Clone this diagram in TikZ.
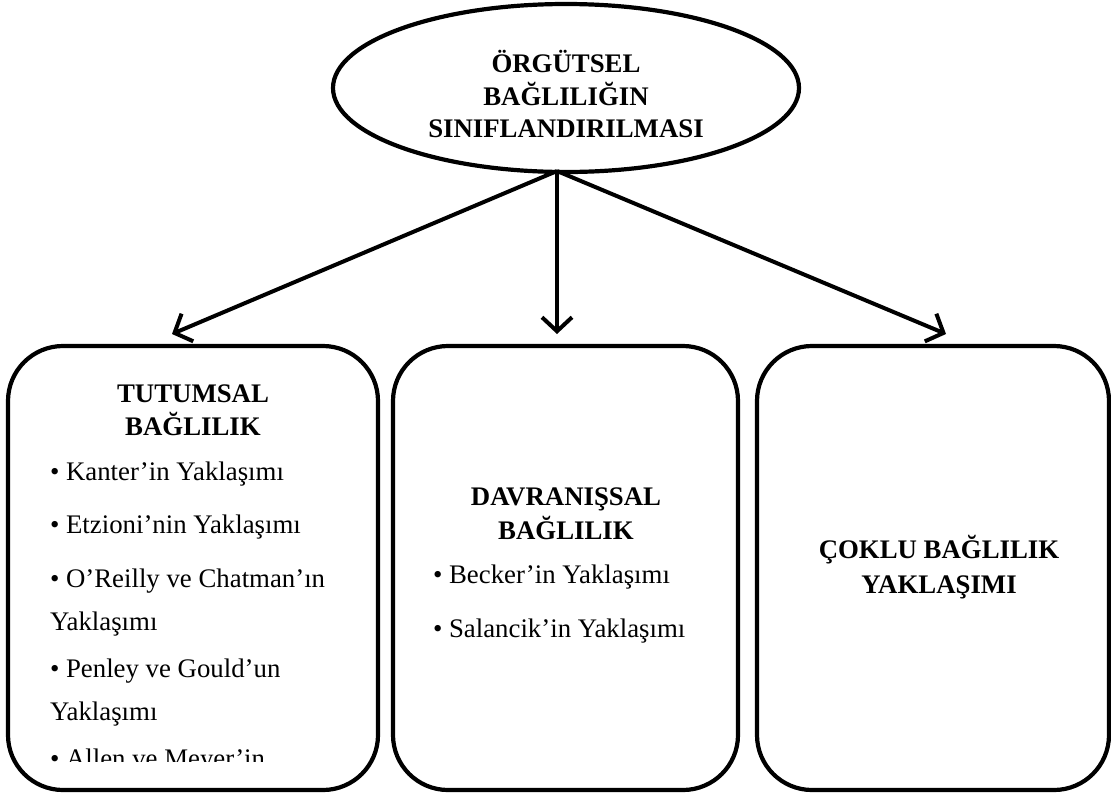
\documentclass[tikz,border=0pt]{standalone}
\usepackage{fontspec}
\setmainfont{Liberation Serif}
\usetikzlibrary{shapes.geometric,arrows.meta}
\begin{document}
\begin{tikzpicture}[x=1pt,y=-1pt,
  every node/.style={inner sep=0pt,outer sep=0pt},
  hd/.style={anchor=base,font=\fontsize{26.8}{33}\selectfont\bfseries},
  item/.style={anchor=base west,font=\fontsize{26.8}{33}\selectfont},
  card/.style={draw,line width=4.2pt,rounded corners=55pt},
  arr/.style={line width=4pt,-{Straight Barb[length=14pt,width=30pt,line width=4pt]}}]
\useasboundingbox (0,0) rectangle (1111,793);
% top ellipse
\node[draw,ellipse,line width=4.2pt,minimum width=466pt,minimum height=168pt] (top) at (566,88) {};
\node[hd] (t1) at (566,72) {ÖRGÜTSEL};
\node[hd] (t2) at (566,105) {BAĞLILIĞIN};
\node[hd] (t3) at (566,137) {SINIFLANDIRILMASI};
\coordinate (src) at (557,171);
% boxes
\node[card,minimum width=370pt,minimum height=444pt] (b1) at (193,568) {};
\node[card,minimum width=345pt,minimum height=444pt] (b2) at (565.5,568) {};
\node[card,minimum width=352pt,minimum height=444pt] (b3) at (933,568) {};
% arrow tips
\coordinate (e1) at (172,334);
\coordinate (e2) at (557,334);
\coordinate (e3) at (946,334);
\draw[arr] (src) -- (e1);
\draw[arr] (src) -- (e2);
\draw[arr] (src) -- (e3);
% left box text
\node[hd] (l1) at (193,402) {TUTUMSAL};
\node[hd] (l2) at (193,435) {BAĞLILIK};
\node[item] (k1) at (50,480) {• Kanter’in Yaklaşımı};
\node[item] (k2) at (50,533) {• Etzioni’nin Yaklaşımı};
\node[item] (k3) at (50,587) {• O’Reilly ve Chatman’ın};
\node[item] (k3b) at (50,630) {Yaklaşımı};
\node[item] (k4) at (50,677) {• Penley ve Gould’un};
\node[item] (k4b) at (50,720) {Yaklaşımı};
\begin{scope}
\clip (10,700) rectangle (370,761);
\node[item] (k5) at (50,767) {• Allen ve Meyer’in};
\end{scope}
% middle box text
\node[hd] (m1) at (566,505) {DAVRANIŞSAL};
\node[hd] (m2) at (566,539) {BAĞLILIK};
\node[item] (n1) at (433,583) {• Becker’in Yaklaşımı};
\node[item] (n2) at (433,637) {• Salancik’in Yaklaşımı};
% right box text
\node[hd] (r1) at (939,558) {ÇOKLU BAĞLILIK};
\node[hd] (r2) at (939,593) {YAKLAŞIMI};
\end{tikzpicture}
\end{document}
